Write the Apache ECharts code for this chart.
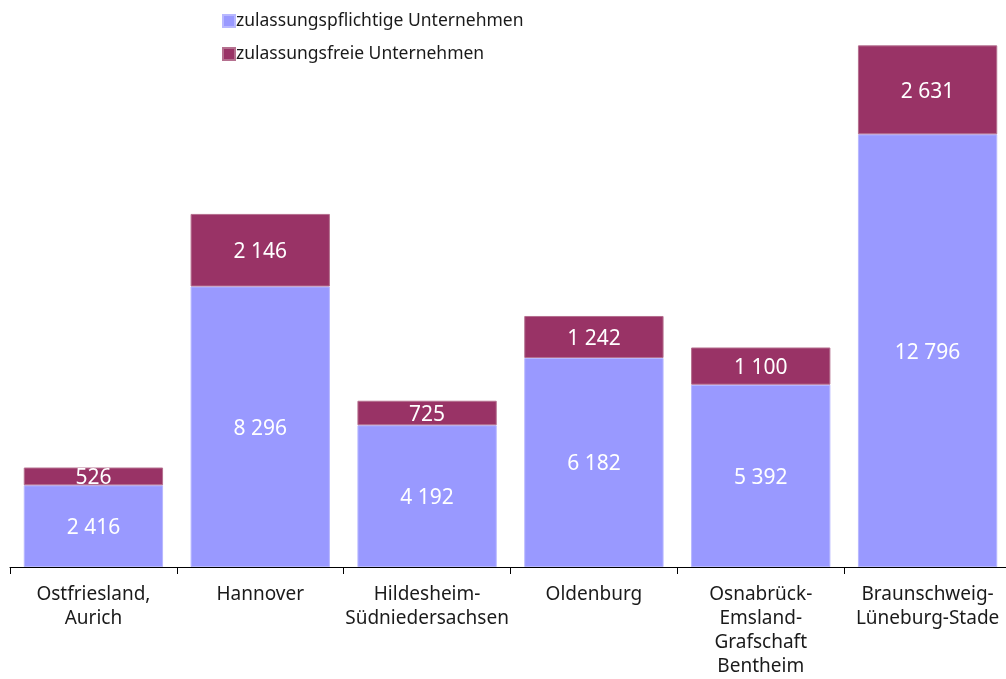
<!DOCTYPE html>
<html>
<head>
<meta charset="utf-8">
<script src="https://cdn.jsdelivr.net/npm/echarts@6/dist/echarts.min.js"></script>
<style>html,body{margin:0;padding:0;background:#fff;overflow:hidden;width:1006px;height:679px}#c{width:1011px;height:679px}</style>
</head>
<body>
<div id="c"></div>
<script>
const categories = ["Ostfriesland,\nAurich", "Hannover", "Hildesheim-\nSüdniedersachsen", "Oldenburg", "Osnabrück-\nEmsland-\nGrafschaft\nBentheim", "Braunschweig-\nLüneburg-Stade"];
const seriesNames = ["zulassungspflichtige Unternehmen", "zulassungsfreie Unternehmen"];
const pflichtig = [2416, 8296, 4192, 6182, 5392, 12796];
const frei = [526, 2146, 725, 1242, 1100, 2631];

const fmt = v => String(v).replace(/\B(?=(\d{3})+(?!\d))/g, " ");
const FONT = "'Noto Sans', 'DejaVu Sans', sans-serif";

const chart = echarts.init(document.getElementById('c'));
chart.setOption({
  animation: false,
  textStyle: { fontFamily: FONT },
  legend: {
    orient: 'vertical',
    left: 217,
    top: 7,
    icon: 'rect',
    itemWidth: 12,
    itemHeight: 12,
    itemGap: 15,
    textStyle: { fontSize: 17.5, color: '#1a1a1a', fontFamily: FONT, padding: [0, 0, 0, -4] },
    data: seriesNames
  },
  grid: { left: 10, right: 0, top: 26, bottom: 112, containLabel: false },
  xAxis: {
    type: 'category',
    data: categories,
    axisLine: { lineStyle: { color: '#000', width: 1 } },
    axisTick: { show: true, length: 7, lineStyle: { color: '#000' } },
    axisLabel: { fontSize: 19, color: '#1a1a1a', lineHeight: 24, margin: 16, interval: 0, fontFamily: FONT }
  },
  yAxis: { type: 'value', min: 0, max: 16000, show: false, splitLine: { show: false } },
  series: [
    {
      name: seriesNames[0], type: 'bar', stack: 'a', data: pflichtig, barWidth: '83.5%',
      itemStyle: { color: '#9999FF', borderColor: '#b8b8ff', borderWidth: 1 },
      label: { show: true, position: 'inside', offset: [0, 2], color: '#fff', fontSize: 21, fontFamily: FONT, formatter: p => fmt(p.value) }
    },
    {
      name: seriesNames[1], type: 'bar', stack: 'a', data: frei, barWidth: '83.5%',
      itemStyle: { color: '#993366', borderColor: '#b5708f', borderWidth: 1 },
      label: { show: true, position: 'inside', offset: [0, 2], color: '#fff', fontSize: 21, fontFamily: FONT, formatter: p => fmt(p.value) }
    }
  ]
});
</script>
</body>
</html>
